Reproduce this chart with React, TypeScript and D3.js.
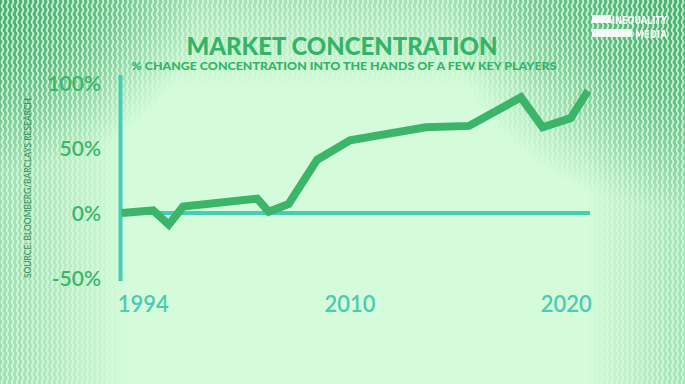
import React from "react";
import * as d3 from "d3";

// data
const years = [1994, 1996.2, 1997.3, 1998.3, 2003.5, 2004.3, 2005.7, 2007.7, 2010, 2013.5, 2015.5, 2017.9, 2018.9, 2020.2, 2021];
const change = [0, 2, -9, 5, 11, 1, 7, 41, 56, 66, 67, 89, 66, 73, 94];
const yTicks = [100, 50, 0, -50];
const xTicks = [1994, 2010, 2020];

const W = 685;
const H = 384;

const App = () => {
  // the x axis of the original is not even: 1994-2010 is squeezed
  const x = d3.scaleLinear().domain([1994, 2010, 2021]).range([121.7, 350, 588]);
  const y = d3.scaleLinear().domain([-50, 100]).range([278, 83]);

  const line = d3
    .line<number>()
    .x((d, i) => x(years[i]))
    .y((d) => y(d));

  const font = "Lato, 'Noto Sans', sans-serif";

  return (
    <svg width={W} height={H} style={{ position: "absolute", left: 0, top: 0 }}>
      <defs>
        <pattern id="wave" width={5} height={8} patternUnits="userSpaceOnUse">
          <rect width={5} height={8} fill="#4aae73" />
          <path d="M2.5,0 Q4.2,2 2.5,4 Q0.8,6 2.5,8" stroke="#c4f2cf" strokeWidth={1.8} fill="none" />
        </pattern>
        <radialGradient id="gBlob" cx={0.5} cy={0.5} r={0.5}>
          <stop offset="0%" stopColor="#fff" stopOpacity={1} />
          <stop offset="45%" stopColor="#fff" stopOpacity={0.75} />
          <stop offset="100%" stopColor="#fff" stopOpacity={0} />
        </radialGradient>
        <linearGradient id="gTop" x1={0} y1={0} x2={0} y2={1}>
          <stop offset="0%" stopColor="#fff" stopOpacity={0.35} />
          <stop offset="100%" stopColor="#fff" stopOpacity={0} />
        </linearGradient>
        <linearGradient id="gLeft" x1={0} y1={0} x2={1} y2={0}>
          <stop offset="0%" stopColor="#fff" stopOpacity={0.4} />
          <stop offset="100%" stopColor="#fff" stopOpacity={0} />
        </linearGradient>
        <linearGradient id="gRight" x1={1} y1={0} x2={0} y2={0}>
          <stop offset="0%" stopColor="#fff" stopOpacity={0.35} />
          <stop offset="100%" stopColor="#fff" stopOpacity={0} />
        </linearGradient>
        <mask id="waveMask">
          <rect width={W} height={H} fill="#000" />
          <rect width={W} height={90} fill="url(#gTop)" />
          <rect width={130} height={H} fill="url(#gLeft)" />
          <rect x={585} width={100} height={H} fill="url(#gRight)" />
          <ellipse cx={0} cy={0} rx={200} ry={170} fill="url(#gBlob)" />
          <ellipse cx={W} cy={0} rx={240} ry={210} fill="url(#gBlob)" />
        </mask>
      </defs>

      {/* background */}
      <rect width={W} height={H} fill="#d5fcda" />
      <rect width={W} height={H} fill="url(#wave)" mask="url(#waveMask)" />

      {/* title */}
      <text x={342} y={55} textAnchor="middle" fill="#33b468" fontFamily={font} fontWeight={900} fontSize={24} textLength={311} lengthAdjust="spacingAndGlyphs">
        MARKET CONCENTRATION
      </text>
      <text x={344} y={70} textAnchor="middle" fill="#33b468" fontFamily={font} fontWeight={900} fontSize={11.5} textLength={425} lengthAdjust="spacingAndGlyphs">
        % CHANGE CONCENTRATION INTO THE HANDS OF A FEW KEY PLAYERS
      </text>

      {/* logo */}
      <g fill="#fff" opacity={0.9}>
        <rect x={592} y={15} width={19} height={8} />
        <rect x={592} y={29} width={40} height={8} />
        <text x={612} y={23.5} fontFamily="'DejaVu Sans Condensed', sans-serif" fontWeight={700} fontSize={10} textLength={55} lengthAdjust="spacingAndGlyphs">INEQUALITY</text>
        <text x={635} y={37.5} fontFamily="'DejaVu Sans Condensed', sans-serif" fontWeight={700} fontSize={10} textLength={32} lengthAdjust="spacingAndGlyphs">MEDIA</text>
      </g>

      {/* source */}
      <text transform="translate(31,188) rotate(-90)" textAnchor="middle" fill="#2f8a55" fontFamily={font} fontSize={8.5} textLength={180} lengthAdjust="spacingAndGlyphs">
        SOURCE: BLOOMBERG/BARCLAYS RESEARCH
      </text>

      {/* y labels */}
      {yTicks.map((t) => (
        <text key={t} x={101} y={y(t)} dy="0.36em" textAnchor="end" fill="#3cb56c" fontFamily={font} fontWeight={600} fontSize={21}>
          {t}%
        </text>
      ))}

      {/* axes */}
      <line x1={120.5} x2={120.5} y1={75} y2={281} stroke="#45cdb5" strokeWidth={4} />
      <line x1={119} x2={590} y1={y(0)} y2={y(0)} stroke="#45cdb5" strokeWidth={4} />

      {/* x labels */}
      {xTicks.map((t, i) => (
        <text key={t} x={x(t)} dx={i === 0 ? -4 : 0} y={312} textAnchor={i === 0 ? "start" : "middle"} fill="#4ccab3" fontFamily={font} fontWeight={600} fontSize={22}>
          {t}
        </text>
      ))}

      {/* line */}
      <path d={line(change) || ""} fill="none" stroke="#3bb669" strokeWidth={8} strokeLinejoin="miter" />
    </svg>
  );
};

export default App;
